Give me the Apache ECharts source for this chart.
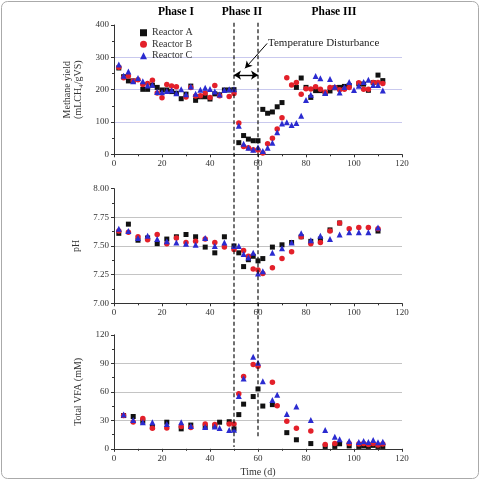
<!DOCTYPE html>
<html>
<head>
<meta charset="utf-8">
<script src="https://cdn.jsdelivr.net/npm/echarts@6/dist/echarts.min.js"></script>
<style>html,body{margin:0;padding:0;background:#fff}#c{width:480px;height:480px}</style>
</head>
<body>
<div id="c"></div>
<script>
// ---------- DATA ----------
const seriesNames = ['Reactor A', 'Reactor B', 'Reactor C'];
const xTicks = [0, 20, 40, 60, 80, 100, 120];
const phaseLabels = ['Phase I', 'Phase II', 'Phase III'];
const annotationText = 'Temperature Disturbance';
const disturbanceDays = [50, 60];

// Methane yield (mL CH4/gVS) : [day, value]
const methaneA = [[2,267],[4,240],[6,227],[8,227],[12,201],[14,201],[16,214],[18,207],[20,199],[22,199],[24,194],[26,189],[28,172],[30,186],[32,211],[34,167],[36,178],[38,178],[40,171],[42,187],[44,184],[46,199],[48,199],[50,200],[52,36],[54,58],[56,47],[58,42],[60,42],[62,139],[64,127],[66,131],[68,147],[70,160],[76,207],[78,236],[80,207],[82,176],[84,197],[86,197],[88,188],[90,196],[92,206],[94,207],[96,210],[98,213],[102,218],[104,217],[106,198],[108,222],[110,245],[112,228]];
const methaneB = [[2,269],[4,237],[6,242],[8,227],[10,231],[12,216],[14,219],[16,229],[18,190],[20,175],[22,216],[24,211],[26,209],[30,177],[32,207],[34,180],[36,181],[38,190],[40,176],[42,213],[44,181],[48,179],[50,188],[52,97],[54,24],[56,20],[58,14],[60,13],[62,4],[64,33],[66,50],[68,78],[70,113],[72,237],[74,214],[76,222],[78,186],[80,203],[82,202],[84,209],[86,201],[88,192],[90,207],[92,207],[94,200],[96,201],[98,207],[102,221],[104,201],[106,201],[108,222],[110,222],[112,219]];
const methaneC = [[2,278],[4,243],[6,256],[8,226],[10,236],[12,226],[14,213],[16,215],[18,193],[20,192],[22,196],[24,198],[26,189],[28,201],[30,186],[32,210],[34,187],[36,200],[38,206],[40,202],[42,194],[44,185],[46,199],[48,201],[50,201],[52,88],[54,33],[56,20],[58,14],[60,22],[62,10],[64,20],[66,36],[68,68],[70,95],[72,99],[74,91],[76,97],[78,119],[80,168],[82,184],[84,242],[86,235],[88,190],[90,233],[92,209],[94,191],[96,208],[98,224],[100,199],[102,212],[104,224],[106,231],[108,214],[110,214],[112,197]];

// pH : [day, value]
const phA = [[2,7.61],[6,7.69],[10,7.55],[14,7.57],[18,7.52],[22,7.56],[26,7.58],[30,7.60],[34,7.58],[38,7.49],[42,7.44],[46,7.58],[50,7.50],[52,7.44],[54,7.32],[56,7.38],[58,7.41],[60,7.37],[62,7.39],[66,7.49],[70,7.51],[74,7.53],[78,7.58],[82,7.54],[86,7.56],[90,7.64],[94,7.70],[110,7.63]];
const phB = [[2,7.63],[6,7.62],[10,7.58],[14,7.555],[18,7.60],[22,7.52],[26,7.57],[30,7.53],[34,7.54],[38,7.56],[42,7.53],[46,7.49],[50,7.47],[54,7.46],[56,7.41],[58,7.30],[60,7.29],[62,7.26],[66,7.31],[70,7.39],[74,7.45],[78,7.58],[82,7.52],[86,7.53],[90,7.63],[94,7.70],[98,7.65],[102,7.66],[106,7.66],[110,7.65]];
const phC = [[2,7.65],[6,7.63],[10,7.57],[14,7.59],[18,7.56],[22,7.54],[26,7.53],[30,7.52],[34,7.51],[38,7.57],[42,7.50],[46,7.53],[50,7.50],[52,7.50],[54,7.43],[56,7.40],[58,7.44],[60,7.26],[62,7.28],[66,7.44],[70,7.48],[74,7.53],[78,7.61],[82,7.55],[86,7.59],[90,7.56],[94,7.60],[98,7.62],[102,7.62],[106,7.62],[110,7.66]];

// Total VFA (mM) : [day, value]
const vfaA = [[4,35],[8,34],[12,29],[16,23],[22,28],[28,21],[32,25],[38,23],[42,24],[44,28],[48,28.5],[50,21],[52,36],[54,47],[58,55],[60,63],[62,45],[66,46.5],[72,17],[76,9.5],[82,5.5],[88,2.5],[92,2.5],[94,5.3],[98,3],[102,2.5],[104,3],[106,2.5],[108,3.6],[110,2.5],[112,2.5]];
const vfaB = [[4,35],[8,28.2],[12,32],[16,21.6],[22,22],[28,23.6],[32,22.5],[38,26],[42,25.5],[48,26],[50,26],[52,58],[54,76],[58,88.8],[60,87],[66,70],[68,45.4],[72,28.9],[76,21.6],[82,18.8],[88,4.6],[92,5.7],[98,5.7],[102,5],[104,5.7],[106,4.6],[108,5.7],[110,3.9],[112,5]];
const vfaC = [[4,36],[8,30.3],[12,28],[16,28],[22,26],[28,28],[32,24],[38,23],[42,23.5],[44,22],[48,19.8],[50,20],[52,55.5],[54,74],[58,96.9],[60,90.6],[62,71],[66,51.5],[68,57],[72,36.6],[76,44.4],[82,30.4],[88,19.7],[92,12.8],[94,10],[98,8.2],[102,7.2],[104,8.2],[106,7.2],[108,9.3],[110,6.8],[112,7.5]];

// ---------- CHART ----------
const FONT = '"Liberation Serif", "DejaVu Serif", "Times New Roman", serif';
const TXT = '#333';
const colors = ['#111111', '#e3202a', '#2b2bd0'];
const symbols = ['rect', 'circle', 'triangle'];
const sizes = [5, 5.5, 6];

const chart = echarts.init(document.getElementById('c'), null, {renderer: 'canvas'});

function xAxis(gi, name) {
  return {
    gridIndex: gi, type: 'value', min: 0, max: 120, interval: 20,
    axisLine: {show: true, onZero: false, lineStyle: {color: '#333', width: 1}},
    axisTick: {show: true, inside: false, length: 3, lineStyle: {color: '#333'}},
    minorTick: {show: true, splitNumber: 2, length: 2, lineStyle: {color: '#333'}},
    axisLabel: {fontFamily: FONT, fontSize: 9, color: TXT, margin: 5},
    splitLine: {show: false},
    name: name || '', nameLocation: 'middle', nameGap: 19,
    nameTextStyle: {fontFamily: FONT, fontSize: 10, color: TXT}
  };
}
function yAxis(gi, min, max, interval, name, gridColor, fmt, gap) {
  return {
    gridIndex: gi, type: 'value', min: min, max: max, interval: interval,
    axisLine: {show: true, lineStyle: {color: '#333', width: 1}},
    axisTick: {show: true, inside: false, length: 3, lineStyle: {color: '#333'}},
    minorTick: {show: true, splitNumber: 2, length: 2, lineStyle: {color: '#333'}},
    axisLabel: {fontFamily: FONT, fontSize: 9, color: TXT, margin: 5, formatter: fmt},
    splitLine: {show: true, showMinLine: false, showMaxLine: false, lineStyle: {color: gridColor, width: 1}},
    name: name, nameLocation: 'middle', nameGap: gap,
    nameTextStyle: {fontFamily: FONT, fontSize: 10, color: TXT, lineHeight: 11.5}
  };
}

const panels = [[methaneA, methaneB, methaneC], [phA, phB, phC], [vfaA, vfaB, vfaC]];
const series = [];
panels.forEach((sets, gi) => {
  sets.forEach((d, k) => {
    series.push({
      name: seriesNames[k], type: 'scatter', xAxisIndex: gi, yAxisIndex: gi,
      data: d, symbol: symbols[k], symbolSize: sizes[k],
      itemStyle: {color: colors[k], opacity: 1}, z: 3 + k, silent: true
    });
  });
});
// double-headed arrow for the disturbance period
series.push({
  type: 'line', xAxisIndex: 0, yAxisIndex: 0, data: [], silent: true,
  markLine: {
    silent: true, symbol: ['arrow', 'arrow'], symbolSize: [7, 7], label: {show: false},
    lineStyle: {color: '#000', width: 1.4, type: 'solid'}, animation: false,
    data: [[{coord: [disturbanceDays[0], 245]}, {coord: [disturbanceDays[1], 245]}]]
  }
});
// pointer arrow from annotation text
series.push({
  type: 'line', xAxisIndex: 0, yAxisIndex: 0, data: [], silent: true,
  markLine: {
    silent: true, symbol: ['none', 'arrow'], symbolSize: [6, 7], label: {show: false},
    lineStyle: {color: '#000', width: 1, type: 'solid'}, animation: false,
    data: [[{coord: [63.8, 343]}, {coord: [54.6, 266]}]]
  }
});

chart.setOption({
  animation: false,
  backgroundColor: '#fff',
  grid: [
    {left: 114, right: 78, top: 25, height: 129.3},
    {left: 114, right: 78, top: 188.6, height: 114.7},
    {left: 114, right: 78, top: 334.8, height: 114}
  ],
  xAxis: [xAxis(0), xAxis(1), xAxis(2, 'Time (d)')],
  yAxis: [
    yAxis(0, 0, 400, 100, 'Methane yield\n(mLCH\u2084/gVS)', '#c9c9ee', null, 16),
    yAxis(1, 7, 8, 0.25, 'pH', '#c4c4c4', v => v.toFixed(2), 21),
    yAxis(2, 0, 120, 30, 'Total VFA (mM)', '#c4c4c4', null, 20)
  ],
  legend: {
    data: seriesNames, orient: 'vertical', left: 135, top: 22,
    itemWidth: 7, itemHeight: 7, itemGap: 0,
    textStyle: {fontFamily: FONT, fontSize: 10, color: TXT, lineHeight: 11.5},
    selectedMode: false
  },
  series: series
});

// overlays: dashed disturbance lines through all panels, phase labels, annotation, border
const pTop50 = chart.convertToPixel({xAxisIndex: 0, yAxisIndex: 0}, [disturbanceDays[0], 407]);
const pTop60 = chart.convertToPixel({xAxisIndex: 0, yAxisIndex: 0}, [disturbanceDays[1], 407]);
const pBot50 = chart.convertToPixel({xAxisIndex: 2, yAxisIndex: 2}, [disturbanceDays[0], 2]);
const pBot60 = chart.convertToPixel({xAxisIndex: 2, yAxisIndex: 2}, [disturbanceDays[1], 12]);
const dashStyle = {stroke: '#111', lineWidth: 1.2, lineDash: [4, 2.5]};

chart.setOption({
  graphic: [
    {type: 'rect', silent: true, shape: {x: 1.5, y: 1.5, width: 477, height: 477, r: 6},
     style: {fill: 'none', stroke: '#aaaaaa', lineWidth: 1}, z: 0},
    {type: 'line', silent: true, shape: {x1: pTop50[0], y1: pTop50[1], x2: pBot50[0], y2: pBot50[1]}, style: dashStyle, z: 10},
    {type: 'line', silent: true, shape: {x1: pTop60[0], y1: pTop60[1], x2: pBot60[0], y2: pBot60[1]}, style: dashStyle, z: 10},
    {type: 'text', silent: true, x: 176, y: 12, style: {text: phaseLabels[0], font: 'bold 11.5px ' + FONT, fill: '#000', align: 'center', verticalAlign: 'middle'}},
    {type: 'text', silent: true, x: 242, y: 12, style: {text: phaseLabels[1], font: 'bold 11.5px ' + FONT, fill: '#000', align: 'center', verticalAlign: 'middle'}},
    {type: 'text', silent: true, x: 334, y: 12, style: {text: phaseLabels[2], font: 'bold 11.5px ' + FONT, fill: '#000', align: 'center', verticalAlign: 'middle'}},
    {type: 'text', silent: true, x: 268, y: 43.5, style: {text: annotationText, font: '11px ' + FONT, fill: '#222', align: 'left', verticalAlign: 'middle'}}
  ]
});
</script>
</body>
</html>
